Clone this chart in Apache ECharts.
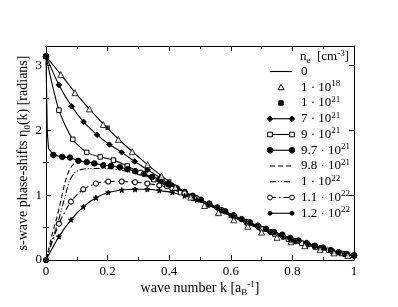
<!DOCTYPE html>
<html><head><meta charset="utf-8">
<script src="https://cdn.jsdelivr.net/npm/echarts@6/dist/echarts.min.js"></script>
<style>html,body{margin:0;padding:0;background:#fff}#c{width:398px;height:307px}</style>
</head><body><div id="c"></div>
<script>
// ---------- data ----------
const xTicks = [0, 0.2, 0.4, 0.6, 0.8, 1];
const xTickLabels = ['0', '0.2', '0.4', '0.6', '0.8', '1'];
const yTicks = [0, 1, 2, 3];
const yTickLabels = ['0', '1', '2', '3'];
const yMinorTicks = [0.5, 1.5, 2.5];

// n_e = 0 (solid line)
const k_0   = [0,0.05,0.1,0.15,0.2,0.25,0.3,0.35,0.4,0.45,0.5,0.55,0.6,0.65,0.7,0.75,0.8,0.85,0.9,0.95,1.0];
const eta_0 = [3.14,2.85,2.55,2.28,2.03,1.80,1.59,1.39,1.21,1.05,0.92,0.80,0.68,0.57,0.47,0.38,0.30,0.23,0.17,0.12,0.07];
// 1e18 (open triangles)
const k_18   = [0.048,0.094,0.141,0.186,0.235,0.28,0.33,0.375,0.42,0.47,0.515,0.56,0.61,0.655,0.70,0.75,0.795,0.84,0.89,0.935,0.98];
const eta_18 = [2.86,2.58,2.33,2.09,1.86,1.67,1.47,1.29,1.12,0.97,0.84,0.73,0.62,0.52,0.43,0.35,0.28,0.22,0.16,0.11,0.07];
// 1e21 (filled squares)
const k_21   = [0, 0.2, 0.4, 0.6, 0.8, 1.0];
const eta_21 = [3.14, 2.04, 1.21, 0.68, 0.30, 0.07];
// 7e21 (filled diamonds, solid)
const k_7e21   = [0,0.042,0.083,0.122,0.166,0.206,0.246,0.288,0.33,0.37,0.41,0.45,0.49,0.53,0.57,0.61,0.65,0.69,0.73,0.77,0.81,0.85,0.89,0.93,0.97,1.0];
const eta_7e21 = [3.14,2.70,2.37,2.13,1.93,1.78,1.66,1.52,1.39,1.27,1.15,1.05,0.95,0.86,0.77,0.68,0.59,0.51,0.43,0.36,0.29,0.24,0.18,0.13,0.09,0.07];
// 9e21 (open squares, solid)
const k_9e21   = [0,0.042,0.087,0.132,0.176,0.219,0.264,0.305,0.35,0.393,0.437,0.48,0.525,0.57,0.612,0.655,0.70,0.743,0.787,0.83,0.874,0.918,0.96,1.0];
const eta_9e21 = [3.14,2.31,1.86,1.66,1.59,1.54,1.45,1.35,1.24,1.14,1.04,0.95,0.85,0.76,0.67,0.57,0.48,0.40,0.32,0.26,0.20,0.15,0.10,0.07];
// 9.7e21 (big filled circles, solid) - first points after k=0 carry no marker
const k_97e21   = [0,0.002,0.004,0.008,0.024,0.053,0.078,0.105,0.132,0.157,0.186,0.211,0.24,0.265,0.29,0.318,0.344,0.37,0.397,0.424,0.45,0.476,0.503,0.53,0.556,0.582,0.609,0.635,0.662,0.688,0.714,0.74,0.767,0.793,0.82,0.846,0.872,0.9,0.925,0.95,0.977,1.0];
const eta_97e21 = [3.14,2.6,2.0,1.72,1.62,1.59,1.58,1.53,1.51,1.49,1.46,1.45,1.43,1.40,1.37,1.33,1.28,1.23,1.17,1.11,1.05,0.99,0.93,0.87,0.81,0.75,0.69,0.63,0.58,0.53,0.48,0.43,0.39,0.34,0.30,0.26,0.22,0.19,0.15,0.12,0.09,0.07];
const noMark_97e21 = [1, 2, 3];
// 9.8e21 (dashed)
const k_98e21   = [0,0.01,0.02,0.035,0.05,0.062,0.075,0.09,0.11,0.14,0.18,0.22,0.26,0.3,0.35,0.4,0.5,0.6,0.7,0.8,0.9,1.0];
const eta_98e21 = [0,0.2,0.4,0.65,0.95,1.2,1.38,1.48,1.52,1.50,1.47,1.44,1.40,1.35,1.27,1.17,0.93,0.69,0.48,0.31,0.18,0.07];
// 1e22 (dash-dot-dot)
const k_1e22   = [0,0.02,0.04,0.06,0.075,0.09,0.11,0.14,0.2,0.25,0.3,0.35,0.4,0.5,0.6,0.7,0.8,0.9,1.0];
const eta_1e22 = [0,0.3,0.6,0.95,1.2,1.33,1.39,1.41,1.41,1.38,1.32,1.24,1.15,0.92,0.68,0.47,0.30,0.17,0.07];
// 1.1e22 (open circles, dash-dot)
const k_11e22   = [0,0.042,0.081,0.121,0.162,0.202,0.246,0.289,0.329,0.368,0.41,0.45,0.49,0.53,0.57,0.61,0.65,0.69,0.73,0.77,0.81,0.85,0.89,0.93,0.97,1.0];
const eta_11e22 = [0,0.56,0.90,1.09,1.18,1.21,1.21,1.20,1.18,1.15,1.10,1.03,0.95,0.86,0.77,0.68,0.59,0.51,0.43,0.36,0.29,0.24,0.18,0.13,0.09,0.07];
// 1.2e22 (small filled stars, solid)
const k_12e22   = [0,0.042,0.081,0.121,0.162,0.202,0.246,0.289,0.329,0.368,0.41,0.45,0.49,0.53,0.57,0.61,0.65,0.69,0.73,0.77,0.81,0.85,0.89,0.93,0.97,1.0];
const eta_12e22 = [0,0.36,0.62,0.82,0.96,1.04,1.08,1.09,1.09,1.07,1.04,0.99,0.93,0.86,0.77,0.68,0.59,0.51,0.43,0.36,0.29,0.24,0.18,0.13,0.09,0.07];

const legendLabels = ['0','1 · 10{sup|18}','1 · 10{sup|21}','7 · 10{sup|21}','9 · 10{sup|21}','9.7 · 10{sup|21}','9.8 · 10{sup|21}','1 · 10{sup|22}','1.1 · 10{sup|22}','1.2 · 10{sup|22}'];

// ---------- build ----------
const FONT = 'Liberation Serif';
const pairs = (ks, vs) => ks.map((k, i) => [k, vs[i]]);
const DASH = [5, 3];
const DASHDOTDOT = [6, 2, 1, 2, 1, 2];
const DASHDOT = [6, 3, 1.5, 3];
const STAR = 'path://M0,-10L2.5,-3L10,-3L4,1.5L6,9L0,4.5L-6,9L-4,1.5L-10,-3L-2.5,-3Z';
const LW = 1.1;

function lineSeries(name, data, opts) {
  return Object.assign({
    name, type: 'line', data, smooth: 0.25,
    lineStyle: { color: '#000', width: LW },
    itemStyle: { color: '#000', borderColor: '#000', borderWidth: 1 },
    symbol: 'none', showSymbol: true, animation: false, z: 3
  }, opts);
}

const series = [
  lineSeries('0', pairs(k_0, eta_0), {}),
  { name: '1e18', type: 'scatter', data: pairs(k_18, eta_18), symbol: 'triangle', symbolSize: 6,
    itemStyle: { color: '#fff', borderColor: '#000', borderWidth: 1 }, animation: false, z: 5 },
  { name: '1e21', type: 'scatter', data: pairs(k_21, eta_21), symbol: 'rect', symbolSize: 4.5,
    itemStyle: { color: '#000' }, animation: false, z: 5 },
  lineSeries('7e21', pairs(k_7e21, eta_7e21), { symbol: 'diamond', symbolSize: 5.5 }),
  lineSeries('9e21', pairs(k_9e21, eta_9e21), { symbol: 'rect', symbolSize: 4.5,
    itemStyle: { color: '#fff', borderColor: '#000', borderWidth: 1 } }),
  lineSeries('9.7e21', pairs(k_97e21, eta_97e21), { smooth: false, symbol: 'circle',
    symbolSize: (v, p) => noMark_97e21.includes(p.dataIndex) ? 0 : 5.5 }),
  lineSeries('9.8e21', pairs(k_98e21, eta_98e21), { lineStyle: { color: '#000', width: LW, type: DASH } }),
  lineSeries('1e22', pairs(k_1e22, eta_1e22), { lineStyle: { color: '#000', width: LW, type: DASHDOTDOT } }),
  lineSeries('1.1e22', pairs(k_11e22, eta_11e22), { symbol: 'circle', symbolSize: 5,
    lineStyle: { color: '#000', width: LW, type: DASHDOT },
    itemStyle: { color: '#fff', borderColor: '#000', borderWidth: 1.1 } }),
  lineSeries('1.2e22', pairs(k_12e22, eta_12e22), { symbol: STAR, symbolSize: 5 })
];

// ---------- legend drawn as graphic ----------
const LX1 = 270, LX2 = 292, LXC = 281, TX = 301, ROW0 = 71.5, DROW = 15.75;
const legendSpec = [
  { line: 'solid' },
  { mark: 'tri', at: 'c' },
  { mark: 'fsq', at: 'c' },
  { line: 'solid', mark: 'dia', at: 'ends' },
  { line: 'solid', mark: 'osq', at: 'ends' },
  { line: 'solid', mark: 'bcirc', at: 'ends' },
  { line: DASH },
  { line: DASHDOTDOT },
  { line: DASHDOT, mark: 'ocirc', at: 'ends' },
  { line: 'solid', mark: 'scirc', at: 'ends' }
];
function markEl(type, cx, cy) {
  const blk = { fill: '#000', stroke: '#000', lineWidth: 1 };
  const wht = { fill: '#fff', stroke: '#000', lineWidth: 1 };
  switch (type) {
    case 'tri': return { type: 'polygon', shape: { points: [[cx, cy - 3], [cx + 3, cy + 2.5], [cx - 3, cy + 2.5]] }, style: wht };
    case 'fsq': return { type: 'rect', shape: { x: cx - 2.2, y: cy - 2.2, width: 4.4, height: 4.4 }, style: blk };
    case 'osq': return { type: 'rect', shape: { x: cx - 2.3, y: cy - 2.3, width: 4.6, height: 4.6 }, style: wht };
    case 'dia': return { type: 'polygon', shape: { points: [[cx, cy - 2.8], [cx + 2.8, cy], [cx, cy + 2.8], [cx - 2.8, cy]] }, style: blk };
    case 'bcirc': return { type: 'circle', shape: { cx, cy, r: 2.8 }, style: blk };
    case 'ocirc': return { type: 'circle', shape: { cx, cy, r: 2.4 }, style: wht };
    case 'scirc': return { type: 'circle', shape: { cx, cy, r: 1.9 }, style: blk };
  }
}
const rich = {
  m: { fontFamily: FONT, fontSize: 13, lineHeight: 16, color: '#000' },
  t: { fontFamily: FONT, fontSize: 14, lineHeight: 17, color: '#000' },
  sup: { fontFamily: FONT, fontSize: 9, lineHeight: 9, verticalAlign: 'top', color: '#000' },
  sub: { fontFamily: FONT, fontSize: 9, lineHeight: 9, verticalAlign: 'bottom', color: '#000' }
};
const graphic = [];
legendSpec.forEach((s, i) => {
  const y = ROW0 + i * DROW;
  if (s.line) graphic.push({ type: 'line', shape: { x1: LX1, y1: y, x2: LX2, y2: y },
    style: { stroke: '#000', lineWidth: LW, lineDash: s.line === 'solid' ? null : s.line }, z: 10 });
  if (s.mark) {
    const xs = s.at === 'c' ? [LXC] : [LX1, LX2];
    xs.forEach(x => { const el = markEl(s.mark, x, y); el.z = 11; graphic.push(el); });
  }
  const parts = legendLabels[i].split(/(\{sup\|[^}]*\})/).filter(Boolean)
    .map(p => p.startsWith('{') ? p : '{m|' + p + '}').join('');
  graphic.push({ type: 'text', x: TX, y: y, z: 11,
    style: { text: parts, rich, verticalAlign: 'middle', align: 'left', fill: '#000' } });
});
graphic.push({ type: 'text', x: 300, y: 57, z: 11,
  style: { text: '{m|n}{sub|e}{m|  [cm}{sup|-3}{m|]}', rich, verticalAlign: 'middle', align: 'left' } });

const axisCommon = {
  type: 'value', splitLine: { show: false },
  axisLine: { show: true, onZero: false, lineStyle: { color: '#000', width: 1 } },
  axisTick: { show: true, inside: true, length: 5, lineStyle: { color: '#000', width: 1 } },
  animation: false
};
const xFmt = v => { const i = xTicks.findIndex(t => Math.abs(t - v) < 1e-9); return i >= 0 ? xTickLabels[i] : ''; };
const yFmt = v => { const i = yTicks.findIndex(t => Math.abs(t - v) < 1e-9); return i >= 0 ? yTickLabels[i] : ''; };

const xBase = Object.assign({}, axisCommon, { min: 0, max: 1, interval: 0.2,
  minorTick: { show: true, splitNumber: 2, length: 3, lineStyle: { color: '#000' } } });
const yBase = Object.assign({}, axisCommon, { min: 0, max: 3.3, interval: 1 });

const option = {
  backgroundColor: '#fff',
  animation: false,
  grid: { left: 46, right: 44, top: 46, bottom: 47 },
  xAxis: [
    Object.assign({}, xBase, { position: 'bottom',
      axisLabel: { color: '#000', fontFamily: FONT, fontSize: 13, margin: 5, formatter: xFmt },
      name: '{t|wave number k [a}{sub|B}{sup|-1}{t|]}', nameLocation: 'middle', nameGap: 20,
      nameMoveOverlap: false, nameTextStyle: { rich } }),
    Object.assign({}, xBase, { position: 'top', axisLabel: { show: false } })
  ],
  yAxis: [
    Object.assign({}, yBase, { position: 'left',
      axisTick: Object.assign({}, axisCommon.axisTick, { customValues: yTicks }),
      axisLabel: { color: '#000', fontFamily: FONT, fontSize: 13, margin: 4, formatter: yFmt, customValues: yTicks },
      name: '{t|s-wave phase-shifts η}{sub|0}{t|(k) [radians]}', nameLocation: 'middle', nameGap: 14,
      nameMoveOverlap: false, nameRotate: 90, nameTextStyle: { rich } }),
    Object.assign({}, yBase, { position: 'right', axisLabel: { show: false },
      axisTick: Object.assign({}, axisCommon.axisTick, { customValues: yTicks }) }),
    Object.assign({}, yBase, { position: 'left', axisLine: { show: false }, axisLabel: { show: false },
      axisTick: { show: true, inside: true, length: 3, lineStyle: { color: '#000' }, customValues: yMinorTicks } }),
    Object.assign({}, yBase, { position: 'right', axisLine: { show: false }, axisLabel: { show: false },
      axisTick: { show: true, inside: true, length: 3, lineStyle: { color: '#000' }, customValues: yMinorTicks } })
  ],
  series,
  graphic
};
const chart = echarts.init(document.getElementById('c'), null, { renderer: 'canvas' });
chart.setOption(option);
</script>
</body></html>
